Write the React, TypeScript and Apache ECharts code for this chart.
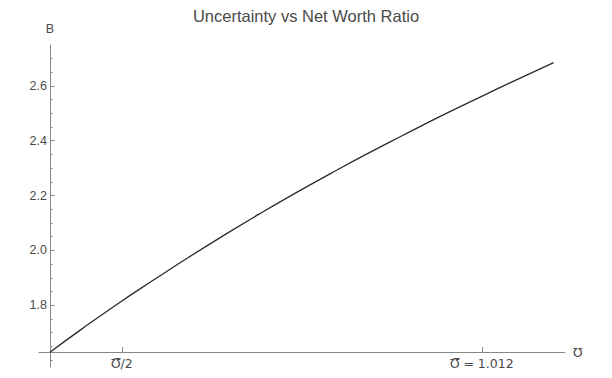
import React, { useEffect, useRef } from "react";
import * as echarts from "echarts";

const UBAR = "\u01B1";
const ubarValue = 1.012;

const xValues = [0.405, 0.45, 0.5, 0.55, 0.6, 0.65, 0.7, 0.75, 0.8, 0.85, 0.9, 0.95, 1.0, 1.05, 1.113];
const bValues = [1.629, 1.714, 1.805, 1.891, 1.975, 2.056, 2.134, 2.209, 2.281, 2.351, 2.418, 2.484, 2.547, 2.609, 2.685];

const xTickValues = [ubarValue / 2, ubarValue];
const xTickLabels = [UBAR + "\u0305/2", UBAR + "\u0305 = 1.012"];
const yMajorTicks = [1.8, 2.0, 2.2, 2.4, 2.6];
const yMinorTicks = [1.6, 1.65, 1.7, 1.75, 1.85, 1.9, 1.95, 2.05, 2.1, 2.15, 2.25, 2.3, 2.35, 2.45, 2.5, 2.55, 2.65, 2.7];

export default function App() {
  const ref = useRef<HTMLDivElement>(null);
  useEffect(() => {
    if (!ref.current) return;
    const chart = echarts.init(ref.current, undefined, { renderer: "svg" });
    const axisColor = "#888888";
    const labelColor = "#4a4a4a";
    const font = "'Liberation Sans', Arial, sans-serif";
    chart.setOption({
      animation: false,
      backgroundColor: "#ffffff",
      title: {
        text: "Uncertainty vs Net Worth Ratio",
        left: "center",
        top: 2,
        textStyle: { fontFamily: font, fontSize: 16.5, fontWeight: "normal", color: "#4a4a4a" },
      },
      grid: { left: 39, right: 47, top: 45, bottom: 11, containLabel: false },
      xAxis: {
        type: "value",
        min: 0.3896,
        max: 1.129,
        offset: -15,
        position: "bottom",
        name: UBAR,
        nameLocation: "end",
        nameGap: 8,
        nameTextStyle: { fontFamily: "'DejaVu Sans', sans-serif", fontSize: 12.5, color: labelColor, verticalAlign: "middle" },
        axisLine: { onZero: false, lineStyle: { color: axisColor, width: 1 } },
        axisTick: { inside: true, length: 5, customValues: xTickValues, lineStyle: { color: axisColor } },
        axisLabel: {
          customValues: xTickValues,
          margin: 5,
          fontFamily: "'DejaVu Sans', sans-serif",
          fontSize: 12.5,
          color: labelColor,
          formatter: (v: number) => {
            const i = xTickValues.findIndex((t) => Math.abs(t - v) < 1e-6);
            return i >= 0 ? xTickLabels[i] : "";
          },
        },
        splitLine: { show: false },
      },
      yAxis: [
        {
          type: "value",
          min: 1.575,
          max: 2.749,
          offset: -11,
          position: "left",
          name: "B",
          nameLocation: "end",
          nameGap: 10,
          nameTextStyle: { fontFamily: font, fontSize: 12.5, color: labelColor, align: "center" },
          axisLine: { show: true, onZero: false, lineStyle: { color: axisColor, width: 1 } },
          axisTick: { show: true, inside: true, length: 4.5, customValues: yMajorTicks, lineStyle: { color: axisColor } },
          axisLabel: {
            customValues: yMajorTicks,
            margin: 3,
            fontFamily: font,
            fontSize: 12.5,
            color: labelColor,
            formatter: (v: number) => v.toFixed(1),
          },
          splitLine: { show: false },
        },
        {
          type: "value",
          min: 1.575,
          max: 2.749,
          offset: -11,
          position: "left",
          axisLine: { show: false },
          axisTick: { show: true, inside: true, length: 2.5, customValues: yMinorTicks, lineStyle: { color: axisColor } },
          axisLabel: { show: false },
          splitLine: { show: false },
        },
      ],
      series: [
        {
          type: "line",
          data: xValues.map((x, i) => [x, bValues[i]]),
          smooth: true,
          showSymbol: false,
          lineStyle: { color: "#2b2b2b", width: 1.3 },
        },
      ],
    });
    return () => chart.dispose();
  }, []);
  return <div ref={ref} style={{ position: "absolute", left: 0, top: 0, width: 612, height: 378 }} />;
}
